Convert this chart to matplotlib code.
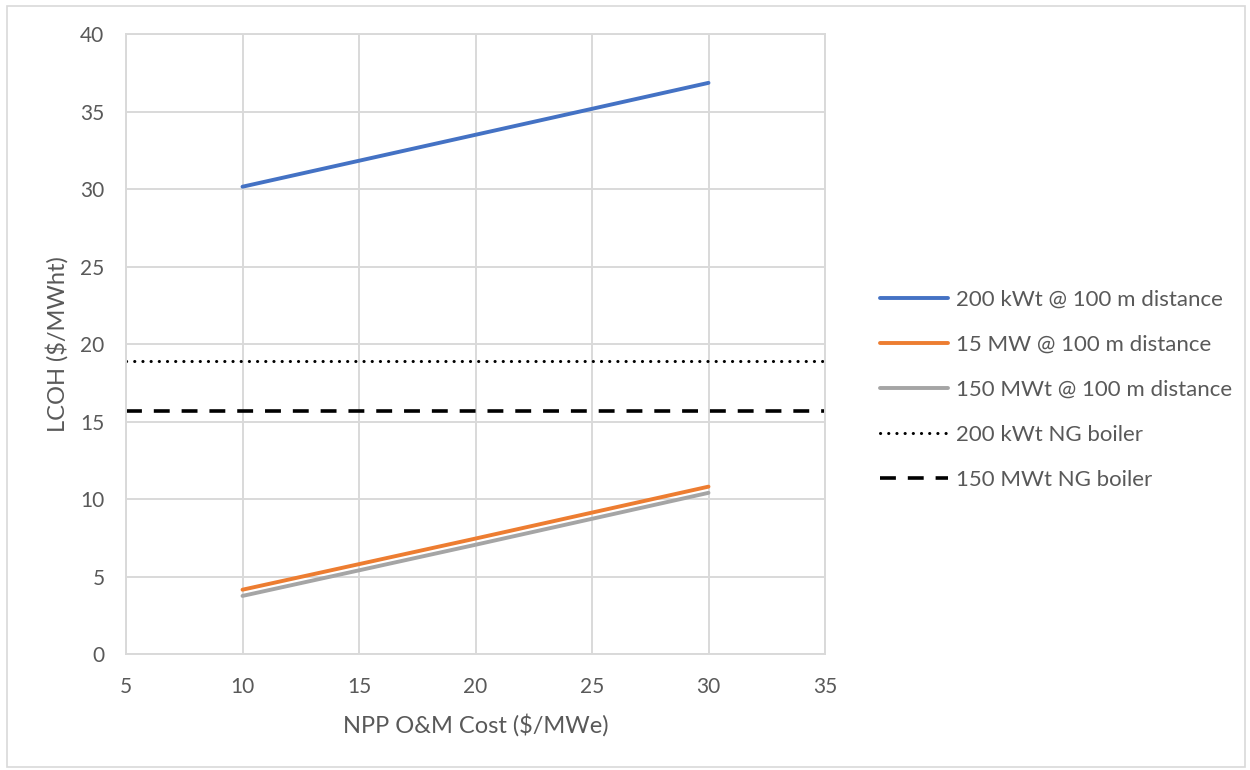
import matplotlib
matplotlib.use("Agg")
import matplotlib.pyplot as plt
from matplotlib.patches import Rectangle

plt.rcParams['font.family'] = ['Lato', 'DejaVu Sans']

# NPP O&M cost ($/MWe)
om_cost = [10, 20, 30]
# LCOH ($/MWht) for each heat-delivery case
lcoh_200kwt = [30.15, 33.5, 36.85]
lcoh_15mw = [4.15, 7.45, 10.8]
lcoh_150mwt = [3.75, 7.05, 10.4]
# Natural-gas boiler reference levels, spanning the full x range
ng_x = [5, 35]
ng_200kwt = [18.9, 18.9]
ng_150mwt = [15.65, 15.65]

labels = [
    "200 kWt @ 100 m distance",
    "15 MW @ 100 m distance",
    "150 MWt @ 100 m distance",
    "200 kWt NG boiler",
    "150 MWt NG boiler",
]

text_col = "#595959"
grid_col = "#d9d9d9"

fig = plt.figure(figsize=(12.5, 7.7), dpi=100)
ax = fig.add_axes([0.1008, 0.1506, 0.5592, 0.8052])

lw = 2.8
ax.plot(om_cost, lcoh_200kwt, color="#4472c4", lw=lw, label=labels[0], solid_capstyle="round")
ax.plot(om_cost, lcoh_15mw, color="#ed7d31", lw=lw, label=labels[1], solid_capstyle="round")
ax.plot(om_cost, lcoh_150mwt, color="#a5a5a5", lw=lw, label=labels[2], solid_capstyle="round")
ax.plot(ng_x, ng_200kwt, color="black", lw=2.2, linestyle=(0, (0.05, 2.63)),
        dash_capstyle="round", label=labels[3])
ax.plot(ng_x, ng_150mwt, color="black", lw=2.6, linestyle=(0, (4.4, 3.3)),
        label=labels[4])

ax.set_xlim(5, 35)
ax.set_ylim(0, 40)
ax.set_xticks(range(5, 36, 5))
ax.set_yticks(range(0, 41, 5))
ax.grid(True, color=grid_col, lw=1.4)
ax.set_axisbelow(True)
for s in ax.spines.values():
    s.set_color(grid_col)
    s.set_linewidth(1.4)
ax.tick_params(length=0, labelsize=15, colors=text_col)
ax.tick_params(axis="y", pad=15.5)
ax.tick_params(axis="x", pad=16.5)

ax.set_xlabel("NPP O&M Cost ($/MWe)", fontsize=17, color=text_col, va="center")
ax.set_ylabel("LCOH ($/MWht)", fontsize=17, color=text_col, va="center")
ax.xaxis.set_label_coords(0.5, -0.1145)
ax.yaxis.set_label_coords(-0.0987, 0.5)

leg = fig.legend(loc="upper left", bbox_to_anchor=(0.704, 0.624), frameon=False,
                 fontsize=16, handlelength=3.06, handletextpad=0.36,
                 labelspacing=1.13, borderaxespad=0, borderpad=0)
for t in leg.get_texts():
    t.set_color(text_col)

# Chart border
fig.patches.append(Rectangle((7 / 1250, 3 / 770), 1238 / 1250, 761 / 770,
                             transform=fig.transFigure, fill=False,
                             edgecolor=grid_col, lw=1.2))

fig.savefig("out.png", dpi=100)
